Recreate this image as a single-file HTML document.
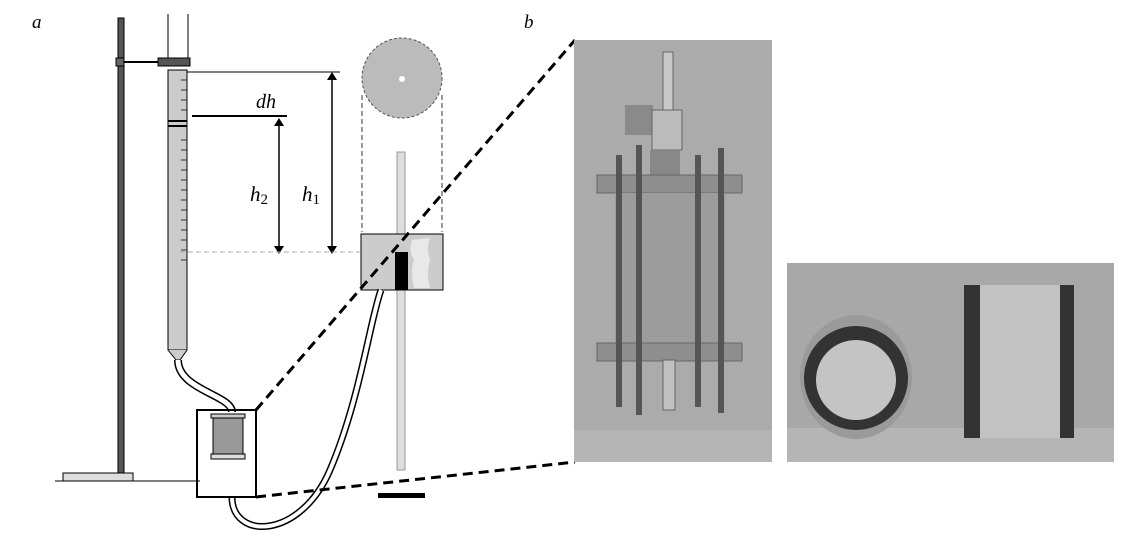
<!DOCTYPE html>
<html><head><style>
body{margin:0;background:#fff;width:1133px;height:549px;overflow:hidden;position:relative;font-family:"Liberation Serif",serif}
</style></head><body>
<svg width="1133" height="549" style="position:absolute;left:0;top:0" font-family="Liberation Serif, serif">
<defs>
<marker id="ar" markerWidth="8" markerHeight="10" refX="4" refY="5" orient="auto-start-reverse" markerUnits="userSpaceOnUse">
<path d="M0,0 L8,5 L0,10 z" fill="#000"/></marker>
</defs>
<text x="32" y="28" font-size="19" font-style="italic">a</text>
<text x="524" y="28" font-size="19" font-style="italic">b</text>
<!-- stand -->
<rect x="118" y="18" width="6" height="458" fill="#555" stroke="#000"/>
<rect x="63" y="473" width="70" height="8" fill="#ddd" stroke="#000"/>
<line x1="55" y1="481" x2="200" y2="481" stroke="#000"/>
<rect x="116" y="58" width="8" height="8" fill="#666" stroke="#000"/>
<line x1="124" y1="62" x2="160" y2="62" stroke="#000" stroke-width="2"/>
<rect x="158" y="58" width="32" height="8" fill="#555" stroke="#000"/>
<!-- burette -->
<path d="M168,14 L168,58 M188,14 L188,58" stroke="#000" stroke-width="1"/>
<rect x="168" y="70" width="19" height="280" fill="#ccc" stroke="#000"/>
<path d="M168,350 L176,360 L180,360 L187,350" fill="#ccc" stroke="#000"/>
<line x1="168" y1="121" x2="187" y2="121" stroke="#000" stroke-width="2"/>
<line x1="168" y1="126" x2="187" y2="126" stroke="#000" stroke-width="2"/>
<g stroke="#333" stroke-width="1">
<line x1="181" y1="80" x2="187" y2="80"/><line x1="181" y1="90" x2="187" y2="90"/><line x1="181" y1="100" x2="187" y2="100"/><line x1="181" y1="110" x2="187" y2="110"/><line x1="181" y1="140" x2="187" y2="140"/><line x1="181" y1="150" x2="187" y2="150"/><line x1="181" y1="160" x2="187" y2="160"/><line x1="181" y1="170" x2="187" y2="170"/><line x1="181" y1="180" x2="187" y2="180"/><line x1="181" y1="190" x2="187" y2="190"/><line x1="181" y1="200" x2="187" y2="200"/><line x1="181" y1="210" x2="187" y2="210"/><line x1="181" y1="220" x2="187" y2="220"/><line x1="181" y1="230" x2="187" y2="230"/><line x1="181" y1="240" x2="187" y2="240"/><line x1="181" y1="250" x2="187" y2="250"/><line x1="181" y1="260" x2="187" y2="260"/>
</g>
<!-- dims -->
<line x1="187" y1="72" x2="340" y2="72" stroke="#000"/>
<line x1="192" y1="116" x2="287" y2="116" stroke="#000" stroke-width="2"/>
<line x1="332" y1="76" x2="332" y2="250" stroke="#000" stroke-width="1.5" marker-start="url(#ar)" marker-end="url(#ar)"/>
<line x1="279" y1="122" x2="279" y2="250" stroke="#000" stroke-width="1.5" marker-start="url(#ar)" marker-end="url(#ar)"/>
<line x1="180" y1="252" x2="360" y2="252" stroke="#aaa" stroke-dasharray="5,3"/>
<text x="256" y="108" font-size="20" font-style="italic">dh</text>
<text x="250" y="201" font-size="21" font-style="italic">h<tspan font-size="15" dy="3" font-style="normal">2</tspan></text>
<text x="302" y="201" font-size="21" font-style="italic">h<tspan font-size="15" dy="3" font-style="normal">1</tspan></text>
<!-- circle -->
<circle cx="402" cy="78" r="40" fill="#bbb" stroke="#555" stroke-dasharray="3,2"/>
<circle cx="402" cy="79" r="3" fill="#fff"/>
<line x1="362" y1="95" x2="362" y2="232" stroke="#333" stroke-dasharray="5,3"/>
<line x1="442" y1="95" x2="442" y2="232" stroke="#333" stroke-dasharray="5,3"/>
<!-- rod -->
<rect x="397" y="152" width="8" height="318" fill="#ddd" stroke="#999"/>
<rect x="378" y="493" width="47" height="5" fill="#000"/>
<!-- vessel -->
<rect x="361" y="234" width="82" height="56" fill="#ccc" stroke="#000"/>
<path d="M412,240 q-4,10 2,20 q-4,10 0,28 L430,288 q-4,-14 0,-28 q-4,-12 0,-22z" fill="#e8e8e8"/>
<rect x="395" y="252" width="13" height="38" fill="#000"/>
<!-- tubes -->
<path d="M178,360 C178,390 232,395 232,412" fill="none" stroke="#000" stroke-width="8"/>
<path d="M178,360 C178,390 232,395 232,412" fill="none" stroke="#fff" stroke-width="5"/>
<path d="M232,497 C232,540 300,540 330,470 C360,400 370,320 381,290" fill="none" stroke="#000" stroke-width="7"/>
<path d="M232,497 C232,540 300,540 330,470 C360,400 370,320 381,290" fill="none" stroke="#fff" stroke-width="4"/>
<!-- box -->
<rect x="197" y="410" width="59" height="87" fill="none" stroke="#000" stroke-width="2"/>
<rect x="211" y="414" width="34" height="4" fill="#ccc" stroke="#000"/>
<rect x="213" y="418" width="30" height="36" fill="#999" stroke="#000"/>
<rect x="211" y="454" width="34" height="5" fill="#ddd" stroke="#000"/>
<line x1="256" y1="410" x2="575" y2="40" stroke="#000" stroke-width="3" stroke-dasharray="10,6"/>
<line x1="256" y1="497" x2="575" y2="462" stroke="#000" stroke-width="3" stroke-dasharray="10,6"/>
<!-- photo 1 -->
<rect x="574" y="40" width="198" height="422" fill="#ababab"/>
<rect x="574" y="430" width="198" height="32" fill="#b5b5b5"/>
<rect x="663" y="52" width="10" height="60" fill="#c8c8c8" stroke="#666"/>
<rect x="625" y="105" width="28" height="30" fill="#8a8a8a"/>
<rect x="652" y="110" width="30" height="40" fill="#bbb" stroke="#666"/>
<rect x="650" y="150" width="30" height="25" fill="#888"/>
<rect x="597" y="175" width="145" height="18" fill="#8e8e8e" stroke="#666"/>
<rect x="615" y="193" width="110" height="150" fill="#9c9c9c"/>
<rect x="597" y="343" width="145" height="18" fill="#8e8e8e" stroke="#666"/>
<rect x="616" y="155" width="6" height="252" fill="#555"/>
<rect x="636" y="145" width="6" height="270" fill="#555"/>
<rect x="695" y="155" width="6" height="252" fill="#555"/>
<rect x="718" y="148" width="6" height="265" fill="#555"/>
<rect x="663" y="360" width="12" height="50" fill="#c0c0c0" stroke="#666"/>
<!-- photo 2 -->
<rect x="787" y="263" width="327" height="199" fill="#a8a8a8"/>
<rect x="787" y="428" width="327" height="34" fill="#b5b5b5"/>
<ellipse cx="856" cy="377" rx="56" ry="62" fill="#9a9a9a"/>
<circle cx="856" cy="378" r="52" fill="#333"/>
<circle cx="856" cy="380" r="40" fill="#c4c4c4"/>
<rect x="964" y="285" width="110" height="153" fill="#333"/>
<rect x="980" y="285" width="80" height="153" fill="#c2c2c2"/>
</svg>
</body></html>
